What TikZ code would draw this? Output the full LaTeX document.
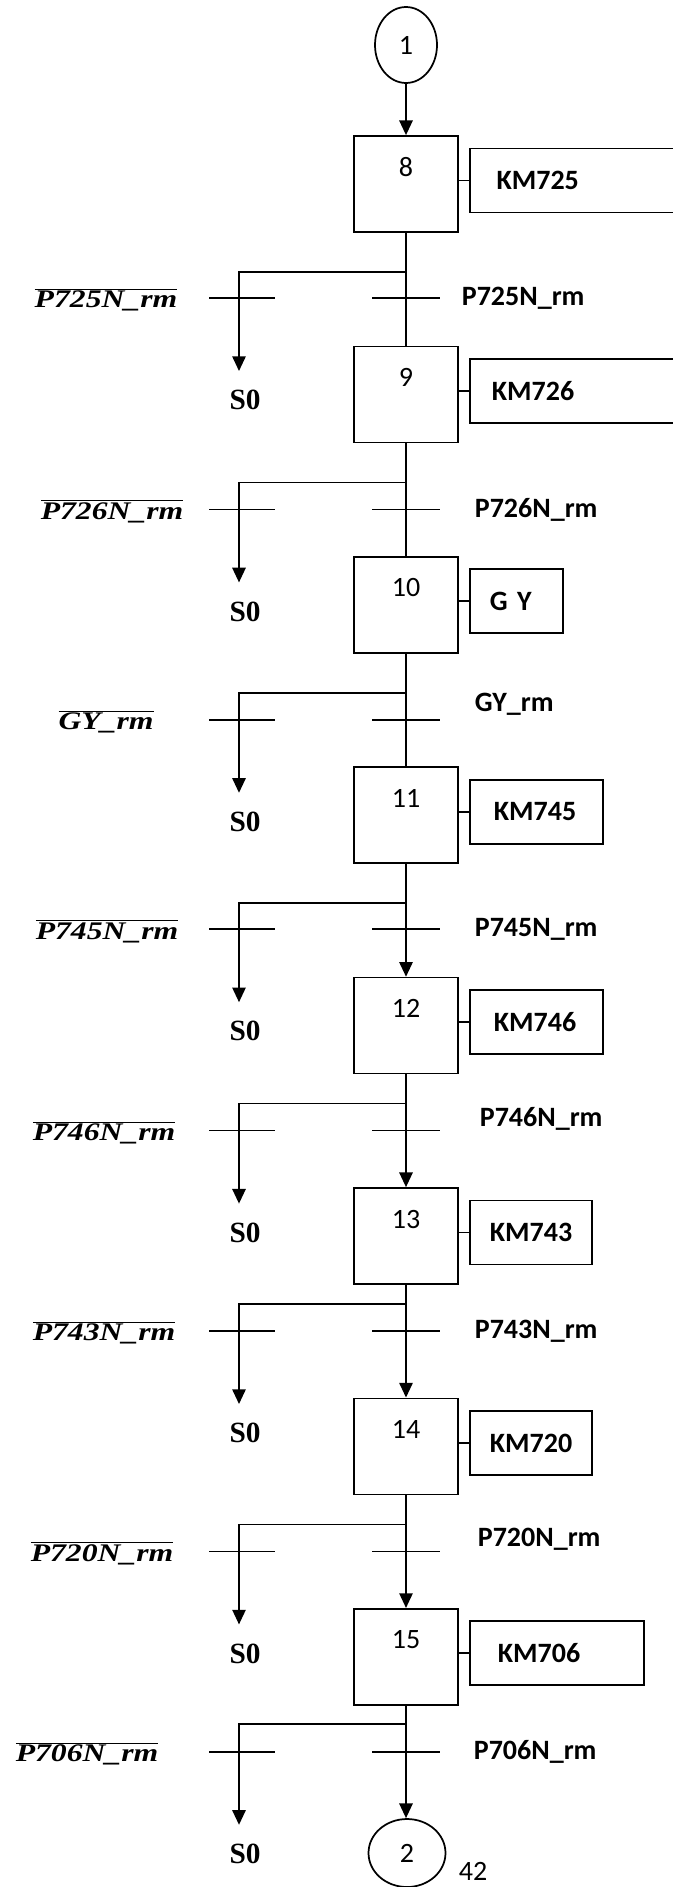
\documentclass[tikz,border=0pt]{standalone}
\usepackage{fontspec}
\setmainfont{Carlito}
\newfontfamily\condfont[FakeStretch=1.25]{Liberation Serif}
\newfontfamily\sofont{Liberation Serif}
\usetikzlibrary{arrows.meta, positioning, calc, shapes.geometric}

\begin{document}
\begin{tikzpicture}[
    x=0.75pt, y=-0.75pt, line width=1.3pt, >={Triangle[length=11pt,width=10pt]},
    stepbox/.style={draw, minimum width=78pt, minimum height=72pt, inner sep=0},
    act/.style={draw, anchor=west, minimum height=48pt, align=left, font=\bfseries\fontsize{21}{25}\selectfont},
    num/.style={inner sep=0, font=\fontsize{21}{25}\selectfont},
    conn/.style={draw, ellipse, inner sep=0, font=\fontsize{21}{25}\selectfont},
    rlab/.style={anchor=west, inner sep=0, font=\bfseries\fontsize{21}{25}\selectfont},
    llab/.style={inner sep=0, font=\fontsize{19}{23}\selectfont},
    szero/.style={inner sep=0, font=\sofont\bfseries\fontsize{22}{26}\selectfont},
  ]
  \useasboundingbox (0,0) rectangle (673,1887);
  % --- renvois d'entree et de sortie ---
  \node[conn, minimum width=46.5pt, minimum height=57pt] (c1) at (406,45) {1};
  \node[conn, minimum width=57.75pt, minimum height=51pt] (c2) at (407,1853) {2};
  \node[num] (pg) at (473,1871) {42};
  % --- etapes, actions et transitions ---
  \foreach \n/\act/\aw/\ap/\bd/\td/\rx/\rdy/\lx/\tr in {
      8/KM725/173/20/40/66/461/0/106/P725N\_rm,
      9/KM726/173/16.5/40/67/474/0/112/P726N\_rm,
      10/G Y/70/15/40/67/474/-16/106/GY\_rm,
      11/KM745/100/18/40/66/474/0/107/P745N\_rm,
      12/KM746/100/18/30/57/479/-12/104/P746N\_rm,
      13/KM743/91.5/15/20/47/474/0/104/P743N\_rm,
      14/KM720/91.5/15/30/57/477/-12/102/P720N\_rm,
      15/KM706/130.5/21/19/47/473/0/87/P706N\_rm}{
    \pgfmathsetmacro\yt{136+210.4*(\n-8)}
    \pgfmathsetmacro\ty{\yt+96+\td}
    \pgfmathsetmacro\tw{\aw-2*\ap}
    \node[stepbox] (s\n) at (406,\yt+48) {};
    \node[num] (n\n) at (406,\yt+31) {\n};
    \node[act, text width=\tw pt, inner xsep=\ap pt] (a\n) at (469,\yt+44.5) {\act};
    \draw (a\n.west -| s\n.east) -- (a\n.west);
    % divergence vers S0
    \coordinate (b\n) at (406,\yt+96+\bd);
    \coordinate (e\n) at (239,\ty+73);
    \coordinate (t\n) at (406,\ty);
    \draw[->] (b\n) -| (e\n);
    \node[szero] (z\n) at (245,\ty+102) {S0};
    % receptivites
    \draw ($(t\n)+(-34,0)$) -- ++(68,0);
    \draw (209,\ty) -- (275,\ty);
    \node[rlab] (r\n) at (\rx,\ty+\rdy) {\tr};
    \node[llab] (l\n) at (\lx,\ty+2) {$\overline{\mbox{\condfont\bfseries\itshape \tr}}$};
  }
  % --- liaisons principales ---
  \draw[->] (c1) -- (s8);
  \foreach \a/\b/\tip in {8/9/-, 9/10/-, 10/11/-, 11/12/->, 12/13/->, 13/14/->, 14/15/->}
    \draw[\tip] (s\a) -- (s\b);
  \draw[->] (s15) -- (s15 |- c2.north);
\end{tikzpicture}
\end{document}
